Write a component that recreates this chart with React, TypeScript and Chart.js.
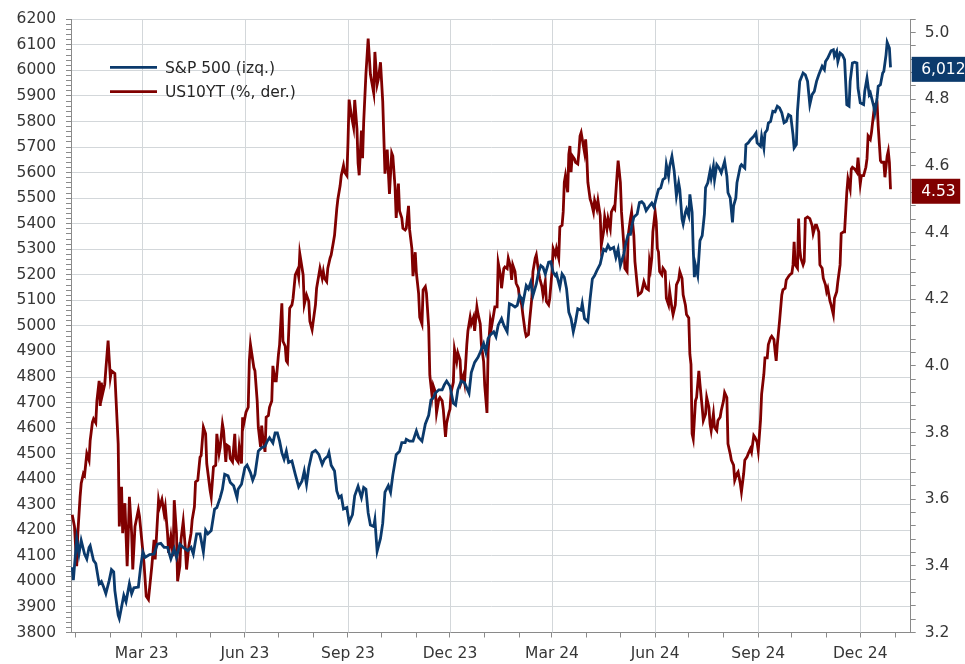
import React, { useEffect, useRef } from 'react';
import { Chart, registerables } from 'chart.js';

Chart.register(...registerables);

// x = days since 2023-01-01
const sp500Label = 'S&P 500 (izq.)';
const us10Label = 'US10YT (%, der.)';

const sp500: [number, number][] = [
  [-3,4056],[-2,4005],[1,4166],[3,4107],[5,4160],[8,4107],[10,4088],[12,4133],[13,4140],[16,4082],
  [18,4070],[21,3991],[23,4000],[25,3978],[27,3952],[30,4004],[32,4046],[34,4037],[35,3965],[38,3868],
  [39,3855],[41,3900],[43,3945],[45,3920],[48,3991],[50,3952],[52,3975],[56,3978],[58,4056],[60,4115],
  [62,4094],[66,4105],[70,4107],[73,4146],[76,4149],[79,4133],[82,4133],[85,4088],[88,4127],[90,4094],
  [93,4146],[96,4133],[100,4120],[103,4133],[105,4107],[108,4186],[111,4186],[114,4115],[116,4200],[118,4186],
  [121,4199],[124,4283],[126,4289],[129,4328],[131,4361],[133,4419],[136,4413],[138,4387],[141,4374],[144,4328],
  [145,4361],[148,4380],[151,4445],[153,4455],[156,4426],[158,4396],[160,4419],[163,4510],[166,4523],[169,4529],
  [171,4549],[173,4562],[176,4542],[178,4581],[180,4581],[182,4549],[184,4504],[186,4478],[188,4510],[190,4465],
  [193,4471],[196,4419],[199,4370],[202,4393],[204,4432],[206,4380],[208,4445],[211,4504],[214,4513],[217,4497],
  [220,4458],[222,4478],[225,4491],[226,4504],[228,4455],[231,4432],[233,4354],[235,4328],[237,4335],[239,4283],
  [242,4289],[244,4231],[247,4261],[249,4335],[252,4372],[255,4328],[257,4368],[259,4361],[261,4268],[263,4221],
  [266,4215],[267,4241],[269,4118],[272,4168],[274,4228],[276,4349],[279,4375],[281,4349],[283,4416],[286,4496],
  [289,4509],[291,4543],[294,4543],[295,4556],[298,4549],[301,4549],[304,4589],[306,4563],[309,4549],[312,4616],
  [315,4650],[317,4710],[319,4717],[321,4737],[324,4750],[327,4750],[329,4770],[331,4784],[334,4764],[337,4697],
  [339,4690],[341,4750],[344,4784],[347,4777],[351,4737],[353,4817],[356,4857],[359,4877],[361,4897],[364,4931],
  [366,4897],[368,4951],[370,4965],[373,4977],[375,4958],[377,5003],[380,5029],[382,5003],[385,4977],[387,5087],
  [389,5083],[392,5074],[394,5080],[396,5119],[398,5106],[399,5087],[402,5158],[404,5145],[406,5171],[408,5119],
  [411,5164],[413,5210],[415,5236],[417,5229],[419,5203],[422,5249],[424,5251],[426,5210],[428,5197],[429,5203],
  [432,5152],[434,5203],[436,5190],[438,5145],[440,5054],[442,5029],[444,4977],[446,5016],[448,5067],[451,5061],
  [452,5087],[454,5029],[457,5016],[459,5106],[461,5184],[463,5197],[465,5216],[468,5242],[471,5300],[473,5294],
  [475,5316],[477,5300],[480,5307],[482,5268],[484,5300],[486,5236],[489,5281],[491,5326],[493,5358],[495,5358],
  [496,5386],[498,5425],[501,5438],[503,5483],[505,5486],[507,5477],[509,5451],[512,5470],[514,5481],[516,5464],
  [518,5501],[520,5534],[522,5540],[524,5573],[526,5579],[527,5631],[529,5586],[530,5625],[532,5664],[534,5606],
  [536,5508],[538,5560],[539,5534],[541,5418],[542,5399],[544,5444],[545,5457],[547,5431],[548,5515],[550,5444],
  [551,5301],[552,5191],[553,5237],[555,5198],[557,5334],[559,5353],[561,5438],[562,5541],[564,5560],[566,5606],
  [567,5579],[569,5625],[570,5573],[572,5631],[574,5618],[576,5599],[579,5644],[581,5586],[582,5521],[584,5501],
  [586,5405],[587,5470],[589,5501],[590,5560],[593,5625],[594,5631],[597,5618],[598,5709],[600,5716],[602,5729],
  [605,5742],[607,5755],[608,5716],[611,5703],[612,5742],[614,5696],[615,5755],[617,5768],[618,5794],[620,5800],
  [622,5840],[624,5838],[626,5860],[628,5853],[630,5834],[632,5795],[634,5801],[636,5827],[638,5821],[640,5749],
  [641,5697],[643,5710],[644,5840],[646,5957],[649,5990],[651,5983],[653,5957],[655,5866],[657,5905],[659,5918],
  [661,5957],[663,5983],[666,6016],[668,6003],[669,6035],[671,6048],[674,6077],[676,6081],[677,6055],[679,6074],
  [680,6035],[682,6068],[684,6061],[686,6042],[688,5866],[690,5860],[691,5957],[693,6029],[695,6032],[697,6029],
  [698,5931],[700,5873],[703,5866],[704,5918],[706,5970],[708,5905],[709,5912],[712,5860],[713,5834],[715,5892],
  [716,5938],[718,5944],[720,5990],[721,5996],[723,6061],[724,6110],[726,6087],[727,6012],
];

const us10y: [number, number][] = [
  [-3,3.553],[-1,3.518],[1,3.399],[2,3.498],[4,3.607],[5,3.647],[7,3.677],[8,3.672],[10,3.737],[12,3.717],
  [13,3.776],[15,3.831],[16,3.841],[18,3.829],[19,3.895],[21,3.955],[22,3.880],[23,3.950],[24,3.915],[26,3.945],
  [27,3.990],[29,4.076],[31,3.965],[32,3.985],[35,3.977],[36,3.905],[38,3.766],[39,3.518],[41,3.637],[42,3.498],
  [44,3.588],[46,3.399],[47,3.498],[48,3.607],[50,3.498],[51,3.389],[53,3.518],[56,3.568],[57,3.548],[59,3.478],
  [61,3.409],[63,3.309],[65,3.299],[68,3.399],[70,3.478],[71,3.419],[74,3.597],[75,3.577],[77,3.599],[79,3.557],
  [80,3.577],[82,3.498],[83,3.439],[85,3.488],[87,3.429],[88,3.597],[90,3.498],[91,3.354],[93,3.399],[94,3.478],
  [96,3.533],[98,3.449],[99,3.389],[101,3.459],[103,3.498],[104,3.538],[106,3.577],[107,3.652],[109,3.657],[111,3.726],
  [112,3.731],[114,3.816],[116,3.796],[117,3.707],[120,3.627],[121,3.607],[123,3.697],[125,3.702],[126,3.796],[128,3.737],
  [129,3.756],[131,3.826],[132,3.806],[134,3.712],[135,3.762],[137,3.757],[138,3.722],[140,3.712],[142,3.796],[143,3.722],
  [145,3.712],[146,3.756],[148,3.707],[149,3.846],[150,3.826],[152,3.861],[154,3.876],[155,4.015],[156,4.064],[159,3.995],
  [160,3.985],[162,3.895],[163,3.816],[165,3.757],[166,3.821],[167,3.786],[169,3.742],[170,3.846],[172,3.851],[173,3.876],
  [175,3.895],[176,4.000],[178,3.955],[179,3.955],[181,4.035],[182,4.064],[184,4.188],[185,4.074],[187,4.059],[188,4.015],
  [189,4.010],[191,4.173],[193,4.183],[194,4.203],[196,4.273],[198,4.288],[199,4.268],[200,4.337],[203,4.273],[204,4.184],
  [206,4.213],[208,4.194],[209,4.134],[211,4.109],[214,4.184],[215,4.233],[217,4.273],[218,4.293],[220,4.263],[221,4.283],
  [222,4.263],[224,4.253],[225,4.293],[227,4.323],[228,4.333],[230,4.372],[231,4.392],[233,4.471],[234,4.501],[236,4.541],
  [237,4.571],[239,4.601],[240,4.581],[242,4.571],[243,4.670],[244,4.799],[246,4.752],[248,4.716],[249,4.798],[251,4.711],
  [252,4.608],[253,4.572],[255,4.706],[256,4.623],[257,4.731],[259,4.875],[261,4.982],[263,4.875],[266,4.818],[267,4.942],
  [269,4.844],[270,4.859],[272,4.911],[274,4.793],[276,4.577],[278,4.649],[280,4.516],[282,4.639],[283,4.630],[285,4.536],
  [286,4.444],[288,4.547],[289,4.465],[291,4.444],[292,4.413],[294,4.408],[295,4.413],[297,4.480],[298,4.408],[300,4.352],
  [301,4.269],[303,4.341],[304,4.280],[306,4.218],[307,4.146],[309,4.126],[310,4.228],[312,4.238],[313,4.218],[315,4.116],
  [316,3.972],[318,3.910],[319,3.941],[321,3.921],[322,3.859],[324,3.900],[325,3.905],[327,3.895],[328,3.870],[330,3.787],
  [331,3.828],[333,3.859],[334,3.870],[335,3.921],[337,3.951],[338,4.049],[340,4.013],[341,4.039],[343,4.018],[344,3.951],
  [346,3.972],[347,3.951],[349,4.064],[350,4.105],[352,4.146],[353,4.126],[355,4.146],[356,4.105],[358,4.177],[359,4.156],
  [361,4.126],[362,4.064],[364,4.013],[365,3.941],[367,3.859],[368,4.044],[370,4.136],[371,4.116],[373,4.156],[374,4.177],
  [376,4.177],[377,4.310],[379,4.273],[380,4.233],[382,4.292],[383,4.297],[385,4.292],[386,4.323],[388,4.297],[389,4.258],
  [390,4.303],[392,4.283],[393,4.248],[395,4.233],[396,4.203],[398,4.183],[399,4.154],[401,4.104],[402,4.089],[404,4.094],
  [405,4.134],[407,4.203],[408,4.283],[410,4.323],[411,4.333],[413,4.283],[414,4.263],[416,4.238],[417,4.213],[419,4.253],
  [420,4.193],[422,4.183],[423,4.203],[425,4.283],[426,4.352],[428,4.333],[429,4.352],[431,4.323],[432,4.417],[434,4.422],
  [435,4.462],[436,4.551],[437,4.571],[439,4.521],[440,4.635],[441,4.660],[442,4.581],[443,4.631],[445,4.621],[446,4.611],
  [448,4.606],[449,4.641],[450,4.690],[451,4.700],[452,4.680],[454,4.641],[455,4.680],[456,4.631],[457,4.551],[459,4.501],
  [460,4.491],[462,4.462],[463,4.496],[465,4.471],[466,4.496],[468,4.452],[469,4.362],[471,4.402],[472,4.447],[474,4.412],
  [475,4.442],[477,4.412],[478,4.462],[480,4.476],[481,4.471],[483,4.571],[484,4.616],[486,4.551],[487,4.462],[489,4.367],
  [490,4.293],[492,4.283],[493,4.392],[495,4.442],[496,4.462],[498,4.392],[499,4.313],[501,4.243],[502,4.213],[504,4.218],
  [505,4.223],[507,4.253],[508,4.243],[509,4.233],[511,4.228],[512,4.313],[513,4.293],[514,4.323],[515,4.402],[517,4.462],
  [518,4.432],[519,4.352],[520,4.342],[521,4.283],[523,4.273],[524,4.293],[526,4.283],[527,4.203],[529,4.183],[530,4.223],
  [532,4.173],[533,4.154],[535,4.183],[536,4.243],[538,4.258],[539,4.283],[541,4.263],[542,4.213],[544,4.183],[545,4.154],
  [547,4.144],[548,4.035],[549,4.005],[550,3.796],[551,3.781],[553,3.895],[554,3.905],[556,3.985],[557,3.945],[559,3.875],
  [560,3.836],[562,3.856],[563,3.905],[565,3.875],[566,3.826],[567,3.806],[569,3.856],[570,3.816],[572,3.806],[573,3.836],
  [575,3.846],[576,3.866],[578,3.895],[579,3.920],[581,3.905],[582,3.766],[584,3.736],[585,3.717],[587,3.702],[588,3.657],
  [590,3.677],[591,3.682],[593,3.647],[594,3.622],[596,3.677],[597,3.717],[599,3.727],[600,3.736],[602,3.751],[603,3.741],
  [605,3.791],[606,3.786],[608,3.771],[609,3.746],[611,3.836],[612,3.915],[614,3.975],[615,4.024],[617,4.024],[618,4.064],
  [620,4.084],[621,4.089],[623,4.079],[624,4.044],[625,4.015],[626,4.064],[628,4.134],[630,4.213],[631,4.228],[633,4.233],
  [634,4.258],[636,4.268],[637,4.273],[639,4.278],[640,4.303],[641,4.372],[642,4.303],[644,4.293],[645,4.442],[646,4.352],
  [647,4.323],[649,4.303],[650,4.313],[651,4.442],[653,4.447],[655,4.442],[657,4.422],[658,4.397],[660,4.422],[661,4.422],
  [663,4.402],[664,4.303],[666,4.293],[667,4.263],[669,4.243],[670,4.223],[671,4.233],[673,4.194],[674,4.183],[676,4.154],
  [677,4.203],[679,4.223],[680,4.253],[682,4.303],[683,4.397],[685,4.402],[686,4.402],[688,4.521],[689,4.561],[691,4.531],
  [692,4.591],[693,4.596],[695,4.591],[697,4.581],[698,4.625],[700,4.546],[701,4.571],[703,4.571],[705,4.596],[706,4.621],
  [707,4.690],[709,4.680],[710,4.700],[712,4.760],[713,4.784],[715,4.789],[716,4.720],[718,4.616],[719,4.611],[721,4.611],
  [722,4.566],[724,4.630],[725,4.645],[726,4.611],[727,4.53],
];

// month starts (days since 2023-01-01) and quarterly labels
const monthTickDays = [0,31,59,90,120,151,181,212,243,273,304,334,365,396,425,456,486,517,547,578,609,639,670,700,731];
const quarterTickDays = [59,151,243,334,425,517,609,700];
const quarterTickLabels = ['Mar 23','Jun 23','Sep 23','Dec 23','Mar 24','Jun 24','Sep 24','Dec 24'];

const leftMin = 3800, leftMax = 6200, leftMinorStep = 20, leftMajorStep = 100;
const rightMin = 3.2, rightMax = 5.04, rightMinorStep = 0.04, rightMajorStep = 0.2;

const BLUE = '#0b3a6c';
const RED = '#800000';
const GRID = '#d3d7da';
const CLEAR = 'rgba(255,255,255,0)';
const AXIS = '#8a8a8a';
const TEXT = '#363636';
const FAMILY = '"DejaVu Sans", sans-serif';
const FSIZE = 15.5;

function fmtThousands(v: number) {
  return String(Math.round(v)).replace(/\B(?=(\d{3})+(?!\d))/g, ',');
}

const overlayPlugin = {
  id: 'overlay',
  beforeDatasetsDraw(chart: any) {
    // quarterly vertical grid lines
    const { ctx, chartArea } = chart;
    const xs = chart.scales.x;
    ctx.save();
    ctx.strokeStyle = GRID;
    ctx.lineWidth = 1;
    quarterTickDays.forEach((d) => {
      const px = Math.round(xs.getPixelForValue(d)) + 0.5;
      ctx.beginPath();
      ctx.moveTo(px, chartArea.top);
      ctx.lineTo(px, chartArea.bottom);
      ctx.stroke();
    });
    ctx.restore();
  },
  afterDraw(chart: any) {
    const { ctx, chartArea } = chart;
    ctx.save();
    ctx.font = `${FSIZE}px ${FAMILY}`;
    ctx.textBaseline = 'middle';
    ctx.textAlign = 'left';
    // legend
    const lx = chartArea.left + 39;
    const ly = chartArea.top + 48;
    chart.data.datasets.forEach((ds: any, i: number) => {
      const y = ly + i * 24.4;
      ctx.strokeStyle = ds.borderColor;
      ctx.lineWidth = 2.8;
      ctx.beginPath();
      ctx.moveTo(lx, y);
      ctx.lineTo(lx + 47, y);
      ctx.stroke();
      ctx.fillStyle = '#262626';
      ctx.fillText(ds.label, lx + 55, y + 1.5);
    });
    // last-value tags
    chart.data.datasets.forEach((ds: any, i: number) => {
      const meta = chart.getDatasetMeta(i);
      const last = meta.data[meta.data.length - 1];
      const v = ds.data[ds.data.length - 1].y;
      const text = i === 0 ? fmtThousands(v) : v.toFixed(2);
      const w = ctx.measureText(text).width + 14;
      const x = chartArea.right + 1;
      const y = last.y + 2;
      ctx.fillStyle = ds.borderColor;
      ctx.fillRect(x, y - 12.5, w, 25);
      ctx.fillStyle = '#ffffff';
      ctx.fillText(text, x + 9.5, y + 1);
    });
    ctx.restore();
  },
};

export default function App() {
  const ref = useRef<HTMLCanvasElement | null>(null);

  useEffect(() => {
    if (!ref.current) return;
    const font = { family: FAMILY, size: FSIZE };
    const leftTicks: number[] = [];
    for (let v = leftMin; v <= leftMax; v += leftMinorStep) leftTicks.push(v);
    const rightTicks: number[] = [];
    const nR = Math.round((rightMax - rightMin) / rightMinorStep);
    for (let i = 0; i <= nR; i++) rightTicks.push(Math.round((rightMin + i * rightMinorStep) * 100) / 100);
    const isRightMajor = (v: number) => Math.abs(v / rightMajorStep - Math.round(v / rightMajorStep)) < 1e-6;
    const yGridColors = leftTicks.map((v) => (v % leftMajorStep === 0 ? GRID : CLEAR));

    const chart = new Chart(ref.current, {
      type: 'line',
      data: {
        datasets: [
          {
            label: sp500Label,
            data: sp500.map(([x, y]) => ({ x, y })),
            borderColor: BLUE,
            backgroundColor: BLUE,
            borderWidth: 2.8,
            pointRadius: 0,
            tension: 0,
            yAxisID: 'y',
          },
          {
            label: us10Label,
            data: us10y.map(([x, y]) => ({ x, y })),
            borderColor: RED,
            backgroundColor: RED,
            borderWidth: 2.8,
            pointRadius: 0,
            tension: 0,
            yAxisID: 'y1',
          },
        ],
      },
      options: {
        responsive: false,
        devicePixelRatio: 1,
        animation: false,
        layout: { padding: { top: 15.5, left: 0, right: 0, bottom: 0 } },
        plugins: { legend: { display: false }, tooltip: { enabled: false } },
        scales: {
          x: {
            type: 'linear',
            min: -4.1,
            max: 745,
            afterBuildTicks: (s: any) => { s.ticks = monthTickDays.map((v) => ({ value: v })); },
            afterFit: (s: any) => { s.height = 31.5; },
            ticks: {
              autoSkip: false,
              maxRotation: 0,
              minRotation: 0,
              padding: 7,
              color: TEXT,
              font,
              callback: (v: any) => {
                const i = quarterTickDays.indexOf(Number(v));
                return i >= 0 ? quarterTickLabels[i] : '';
              },
            },
            grid: {
              drawOnChartArea: false,
              color: AXIS,
              tickColor: AXIS,
              tickLength: 5,
              lineWidth: 1,
            },
            border: { color: AXIS, width: 1 },
          },
          y: {
            type: 'linear',
            position: 'left',
            min: leftMin,
            max: leftMax,
            afterBuildTicks: (s: any) => { s.ticks = leftTicks.map((v) => ({ value: v })); },
            afterFit: (s: any) => { s.width = 71; },
            ticks: {
              autoSkip: false,
              padding: 10,
              color: TEXT,
              font,
              callback: (v: any) => (Number(v) % leftMajorStep === 0 ? String(v) : ''),
            },
            grid: {
              color: (c: any) => yGridColors[c.index] ?? CLEAR,
              tickColor: AXIS,
              tickLength: 5,
              lineWidth: 1,
            },
            border: { color: AXIS, width: 1 },
          },
          y1: {
            type: 'linear',
            position: 'right',
            min: rightMin,
            max: rightMax,
            afterBuildTicks: (s: any) => { s.ticks = rightTicks.map((v) => ({ value: v })); },
            afterFit: (s: any) => { s.width = 54.3; },
            ticks: {
              autoSkip: false,
              padding: 9,
              color: TEXT,
              font,
              callback: (v: any) => (isRightMajor(Number(v)) ? Number(v).toFixed(1) : ''),
            },
            grid: {
              drawOnChartArea: false,
              color: AXIS,
              tickColor: AXIS,
              tickLength: 5,
            },
            border: { color: AXIS, width: 1 },
          },
        },
      } as any,
      plugins: [overlayPlugin],
    });
    return () => chart.destroy();
  }, []);

  return (
    <div style={{ position: 'absolute', left: 0, top: 0, width: 965, height: 664, background: '#fff' }}>
      <canvas ref={ref} width={965} height={664} style={{ display: 'block' }} />
    </div>
  );
}
